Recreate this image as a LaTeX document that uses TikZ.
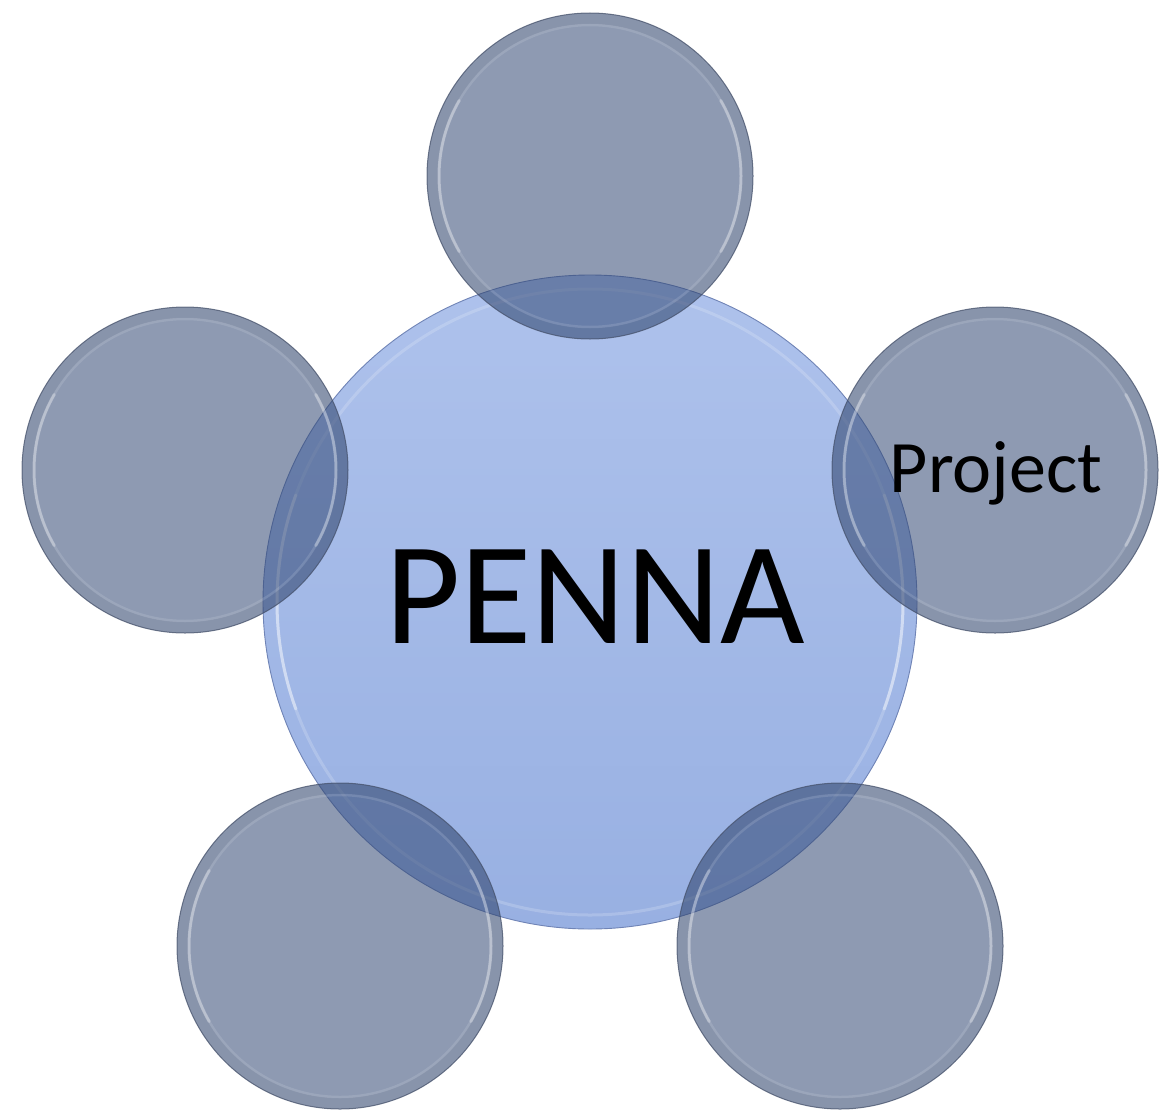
\documentclass[tikz,border=0pt]{standalone}
\usepackage{fontspec}
\setmainfont{Carlito}
\definecolor{outerfill}{RGB}{49,71,115}
\definecolor{outerline}{RGB}{72,84,110}
\definecolor{centtop}{RGB}{174,194,236}
\definecolor{centbot}{RGB}{152,176,226}
\definecolor{centline}{RGB}{112,132,182}
\begin{document}
\begin{tikzpicture}[x=1pt,y=-1pt,
  centcirc/.style={circle, inner sep=0pt, minimum size=654pt, top color=centtop, bottom color=centbot, draw=centline, line width=0.9pt},
  outercirc/.style={circle, inner sep=0pt, minimum size=326pt, fill=outerfill, fill opacity=0.55, draw=outerline, draw opacity=0.75, line width=1pt},
  bevelband/.style={draw=black, draw opacity=0.04, line width=11pt},
  bevelring/.style={draw=white, draw opacity=0.12, line width=2.5pt},
  bevelside/.style={draw=white, draw opacity=0.3, line width=3pt, line cap=round},
  centring/.style={draw=white, draw opacity=0.18, line width=3pt},
  centside/.style={draw=white, draw opacity=0.4, line width=3pt, line cap=round},
  label/.style={text=black, anchor=base, inner sep=0pt}
]
\useasboundingbox (0,0) rectangle (1166,1116);
% central circle
\node[centcirc] (penna) at (590,602) {};
\draw[centring] (penna.center) circle (313pt);
\draw[centside] ([shift={(160:313pt)}]penna.center) arc[start angle=160, end angle=200, radius=313pt];
\draw[centside] ([shift={(-20:313pt)}]penna.center) arc[start angle=-20, end angle=20, radius=313pt];
\node[label, font=\fontsize{146}{150}\selectfont] (pennatext) at (595,643) {PENNA};
% outer circles
\foreach \n/\x/\y in {ctop/590/176, cleft/185/470, cright/995/470, cbl/340/946, cbr/840/946}{
  \node[outercirc] (\n) at (\x,\y) {};
  \draw[bevelband] (\n.center) circle (157.5pt);
  \draw[bevelring] (\n.center) circle (151pt);
  \draw[bevelside] ([shift={(150:151pt)}]\n.center) arc[start angle=150, end angle=210, radius=151pt];
  \draw[bevelside] ([shift={(-30:151pt)}]\n.center) arc[start angle=-30, end angle=30, radius=151pt];
}
\node[label, font=\fontsize{74}{78}\selectfont] (projtext) at (996,492) {Project};
\end{tikzpicture}
\end{document}
